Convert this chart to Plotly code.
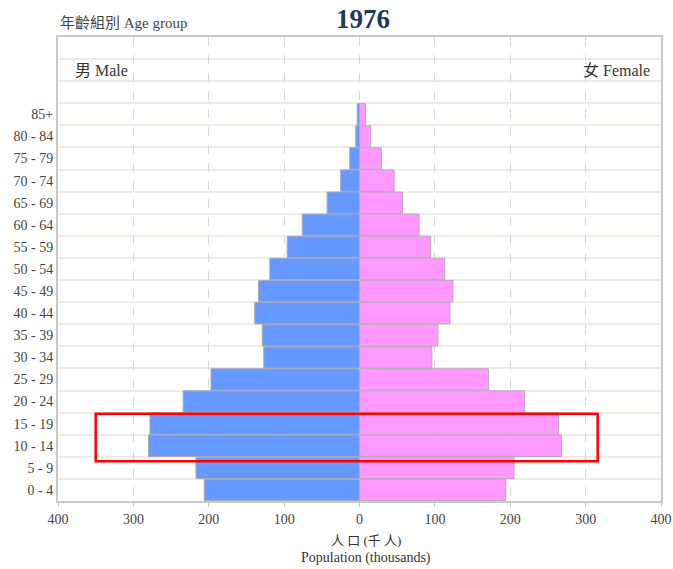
import plotly.graph_objects as go

# Age groups, bottom to top
age_groups = ['0 - 4', '5 - 9', '10 - 14', '15 - 19', '20 - 24', '25 - 29', '30 - 34',
              '35 - 39', '40 - 44', '45 - 49', '50 - 54', '55 - 59', '60 - 64',
              '65 - 69', '70 - 74', '75 - 79', '80 - 84', '85+']

# Population in thousands, 1976
male = [206, 217, 280, 278, 234, 197, 127, 129, 139, 134, 119, 96, 76, 43, 25, 13, 5, 3]
female = [194, 205, 268, 264, 219, 171, 96, 104, 120, 124, 113, 94, 79, 57, 46, 29, 15, 8]

x_ticks = [-400, -300, -200, -100, 0, 100, 200, 300, 400]
x_tick_labels = ['400', '300', '200', '100', '0', '100', '200', '300', '400']

# highlight box around 10-19 (x range, y range in axis units)
box_x = [-350, 316]
box_y = [1.3, 3.45]

serif = 'Liberation Serif, Times New Roman, Noto Sans CJK TC, serif'
rows = list(range(len(age_groups)))

fig = go.Figure()
fig.add_trace(go.Bar(y=rows, x=[-v for v in male], orientation='h', name='Male',
                     marker=dict(color='#6699ff', line=dict(color='#a8a8b8', width=1))))
fig.add_trace(go.Bar(y=rows, x=female, orientation='h', name='Female',
                     marker=dict(color='#ff99ff', line=dict(color='#b8a8b8', width=1))))

fig.update_layout(
    width=673, height=569,
    margin=dict(l=58, r=12, t=37, b=68),
    barmode='overlay', bargap=0.03,
    showlegend=False,
    plot_bgcolor='white', paper_bgcolor='white',
    font=dict(family=serif, size=13, color='#333333'),
)

fig.update_xaxes(
    range=[-400, 400], tickmode='array', tickvals=x_ticks, ticktext=x_tick_labels,
    showgrid=True, gridcolor='#d6d6d6', griddash='dash', gridwidth=1,
    zeroline=False, showline=True, linecolor='#c8c8c8', linewidth=2, mirror=True,
    ticks='outside', ticklen=4, tickcolor='#c8c8c8', automargin=False,
    tickfont=dict(family=serif, size=14, color='#444444'),
)
fig.update_yaxes(
    range=[-0.5, 20.5], tickmode='array', tickvals=rows, ticktext=age_groups,
    showgrid=False, zeroline=False, automargin=False,
    showline=True, linecolor='#c8c8c8', linewidth=2, mirror=True,
    tickfont=dict(family=serif, size=14, color='#444444'),
    minor=dict(tick0=-0.5, dtick=1, showgrid=True, gridcolor='#eeebe0', gridwidth=2),
)

fig.add_shape(type='rect', xref='x', yref='y', x0=box_x[0], x1=box_x[1],
              y0=box_y[0], y1=box_y[1], line=dict(color='#ff0000', width=2.5))

fig.add_annotation(text='<b>1976</b>', xref='paper', yref='paper', x=0.505, y=1.0,
                   yshift=18, yanchor='middle', showarrow=False,
                   font=dict(family=serif, size=27, color='#1f3a5f'))
fig.add_annotation(text='年齡組別 Age group', xref='paper', yref='paper', x=0, y=1,
                   xanchor='left', yanchor='bottom', yshift=4, showarrow=False,
                   font=dict(family=serif, size=15, color='#444444'))
fig.add_annotation(text='男 Male', xref='paper', yref='y', x=0.025, y=19,
                   xanchor='left', showarrow=False,
                   font=dict(family=serif, size=16, color='#333333'))
fig.add_annotation(text='女 Female', xref='paper', yref='y', x=0.985, y=19,
                   xanchor='right', showarrow=False,
                   font=dict(family=serif, size=16, color='#333333'))
fig.add_annotation(text='人 口 (千 人)', xref='paper', yref='paper', x=0.51, y=0,
                   yshift=-39, yanchor='middle', showarrow=False,
                   font=dict(family=serif, size=13, color='#333333'))
fig.add_annotation(text='Population (thousands)', xref='paper', yref='paper', x=0.51, y=0,
                   yshift=-57, yanchor='middle', showarrow=False,
                   font=dict(family=serif, size=14, color='#333333'))

# drop the default 8px page margin so the figure fills the window exactly
fig.write_html("out.html", config={'displayModeBar': False},
               post_script="document.body.style.margin='0';")
